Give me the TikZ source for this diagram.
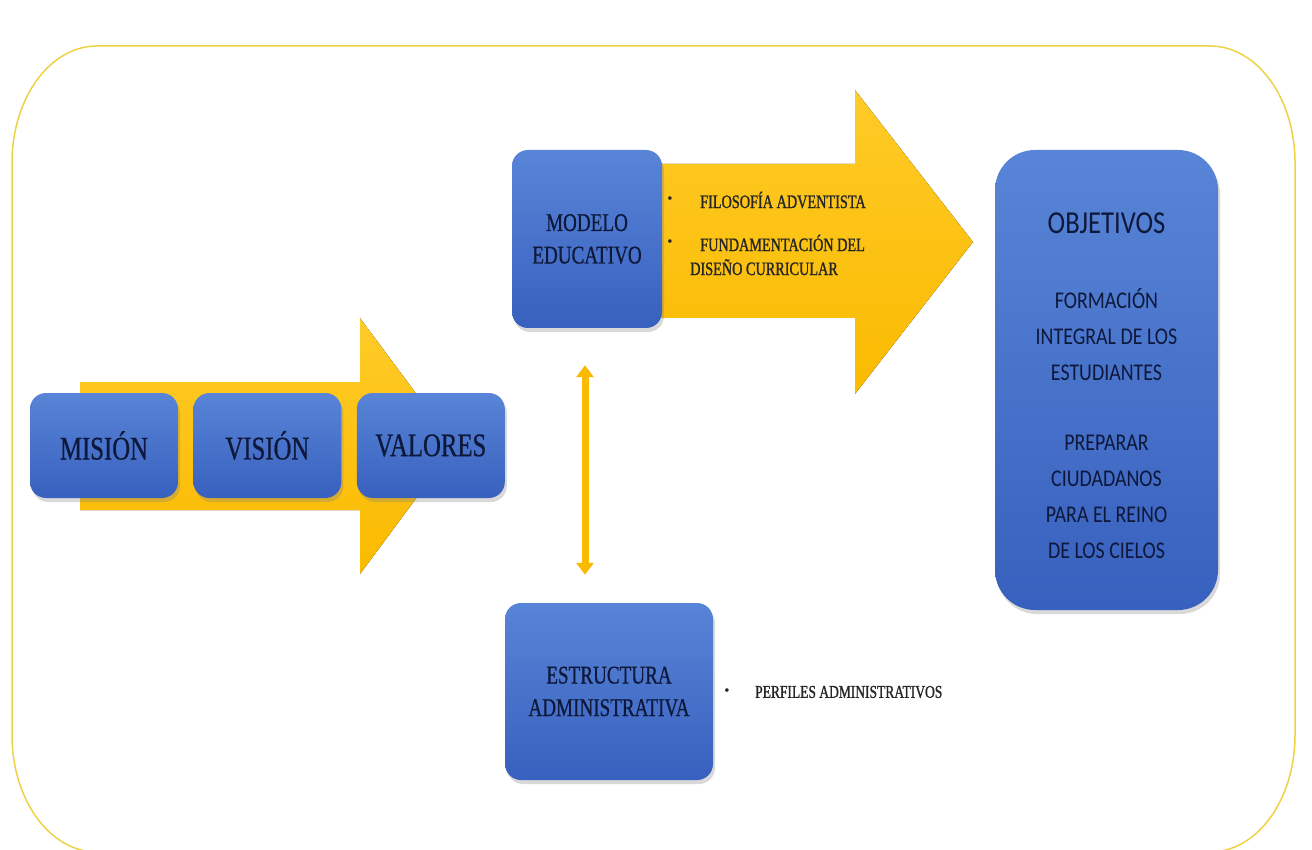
\documentclass[tikz,border=0pt]{standalone}
\usepackage{fontspec}
\setmainfont{Liberation Serif}
\newfontfamily\boxserif[FakeStretch=0.75,FakeBold=0.6]{Liberation Serif}
\newfontfamily\listserif[FakeStretch=0.75,FakeBold=1.2]{Liberation Serif}
\newfontfamily\boxsans[FakeStretch=0.83]{Carlito}
\usetikzlibrary{positioning,shadows,arrows.meta}

\definecolor{boxtop}{RGB}{88,133,215}
\definecolor{boxbot}{RGB}{56,96,190}
\definecolor{goldtop}{RGB}{255,203,40}
\definecolor{goldbot}{RGB}{250,186,0}
\definecolor{framegold}{RGB}{238,210,70}
\definecolor{navy}{RGB}{14,24,58}

\tikzset{
  bluebox/.style={rounded corners=16pt, top color=boxtop, bottom color=boxbot,
    inner sep=0pt, align=center, text=navy,
    drop shadow={shadow xshift=2pt, shadow yshift=-4pt, opacity=0.3}},
  smallbox/.style={bluebox, minimum width=148pt, minimum height=105pt,
    font=\boxserif\fontsize{33}{36}\selectfont},
  tallbox/.style={bluebox, font=\boxserif\fontsize{25.5}{32.5}\selectfont},
  goldarrow/.style={top color=goldtop, bottom color=goldbot, draw=none},
  bullettext/.style={inner sep=0pt, text=black!85, align=left,
    font=\listserif\fontsize{19}{24}\selectfont},
  dot/.style={inner sep=0pt, text=black!85, font=\fontsize{15}{15}\selectfont},
  dblarrow/.style={draw=goldbot, line width=7pt,
    {Triangle[width=17pt,length=12pt]}-{Triangle[width=17pt,length=12pt]}}
}

\begin{document}
\begin{tikzpicture}[x=1pt,y=-1pt]

  \useasboundingbox (0,0) rectangle (1312,850);

  % frame
  \draw[framegold, line width=1.5pt]
    (97,46) -- (1210,46) .. controls (1257,46) and (1295,98) .. (1295,163)
    -- (1295,735) .. controls (1295,800) and (1257,852) .. (1210,852)
    -- (97,852) .. controls (50,852) and (12,800) .. (12,735)
    -- (12,163) .. controls (12,98) and (50,46) .. (97,46) -- cycle;

  % arrows behind the boxes
  \fill[goldarrow] (640,164) -- (855,164) -- (855,90) -- (973,242)
    -- (855,394) -- (855,318) -- (640,318) -- cycle;
  \fill[goldarrow] (80,382) -- (360,382) -- (360,318) -- (455,446)
    -- (360,574) -- (360,510) -- (80,510) -- cycle;

  \node[smallbox] (mision) at (104,445.5) {MISIÓN};
  \node[smallbox, right=15pt of mision] (vision) {VISIÓN};
  \node[smallbox, right=15pt of vision] (valores) {VALORES};

  \node[tallbox, minimum width=150pt, minimum height=178pt]
    (modelo) at (587,239) {MODELO\\EDUCATIVO};
  \node[tallbox, minimum width=208pt, minimum height=177pt]
    (estructura) at (609,691.5) {ESTRUCTURA\\ADMINISTRATIVA};

  \node[bluebox, rounded corners=40pt, minimum width=223pt, minimum height=460pt,
    font=\boxsans\fontsize{24}{36}\selectfont]
    (objetivos) at (1106.5,380)
    {{\fontsize{32}{36}\selectfont OBJETIVOS\rule{0pt}{32pt}}\\[38.5pt]
     FORMACIÓN\\INTEGRAL DE LOS\\ESTUDIANTES\\[34pt]
     PREPARAR\\CIUDADANOS\\PARA EL REINO\\DE LOS CIELOS};

  % texts on the arrow
  \node[dot] (b1) at (670,200) {•};
  \node[bullettext, anchor=west] (filosofia) at (700,200) {FILOSOFÍA ADVENTISTA};
  \node[dot] (b2) at (670,243) {•};
  \node[bullettext, anchor=west] (fundamento) at (690,255)
    {\hspace*{10pt}FUNDAMENTACIÓN DEL\\DISEÑO CURRICULAR};

  \node[dot] (b3) at (727,692) {•};
  \node[bullettext, anchor=west, font=\listserif\fontsize{18}{22}\selectfont]
    (perfiles) at (755,692) {PERFILES ADMINISTRATIVOS};

  \draw[dblarrow, shorten <=37pt, shorten >=28pt]
    ([xshift=-2pt]modelo.south) -- ([xshift=-2pt]modelo.south |- estructura.north);

\end{tikzpicture}
\end{document}
